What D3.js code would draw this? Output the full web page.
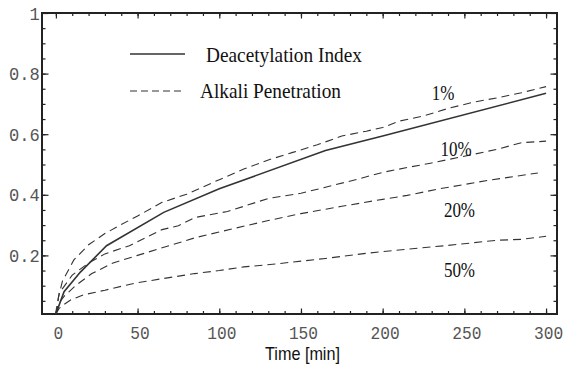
<!DOCTYPE html>
<html><head><meta charset="utf-8">
<script src="https://cdnjs.cloudflare.com/ajax/libs/d3/7.8.5/d3.min.js"></script>
<style>
html,body{margin:0;padding:0;background:#fff;}
svg{display:block;}
</style></head>
<body><svg id="chart" width="567" height="368"></svg>
<script>
// ---- data ----
const deacT = [0, 5, 15, 31, 66, 100, 165, 200, 300];
const deacV = [0.007, 0.08, 0.145, 0.232, 0.342, 0.42, 0.546, 0.594, 0.735];

const p1T = [0, 1.5, 4, 11, 20, 30, 40, 50, 65, 80, 100, 115, 130, 145, 160, 175, 190, 200, 210, 225, 240, 255, 270, 285, 300];
const p1V = [0.007, 0.06, 0.115, 0.185, 0.235, 0.272, 0.302, 0.33, 0.375, 0.402, 0.45, 0.485, 0.515, 0.54, 0.565, 0.594, 0.61, 0.622, 0.643, 0.66, 0.685, 0.705, 0.72, 0.737, 0.757];

const p10T = [0, 2, 10, 20, 30, 45, 65, 75, 85, 105, 115, 130, 150, 165, 185, 200, 215, 230, 255, 270, 285, 300];
const p10V = [0.007, 0.075, 0.135, 0.175, 0.205, 0.232, 0.285, 0.298, 0.325, 0.345, 0.362, 0.388, 0.405, 0.425, 0.452, 0.474, 0.49, 0.505, 0.533, 0.55, 0.572, 0.577];

const p20T = [0, 1.5, 5, 12, 22, 35, 50, 65, 85, 110, 130, 150, 175, 200, 215, 235, 265, 295];
const p20V = [0.007, 0.04, 0.065, 0.1, 0.14, 0.175, 0.2, 0.225, 0.258, 0.29, 0.315, 0.338, 0.362, 0.385, 0.398, 0.42, 0.448, 0.472];

const p50T = [0, 2, 5, 9, 17, 30, 40, 50, 65, 85, 100, 115, 135, 165, 190, 210, 240, 270, 285, 300];
const p50V = [0.007, 0.025, 0.038, 0.053, 0.07, 0.085, 0.098, 0.11, 0.123, 0.14, 0.15, 0.162, 0.172, 0.19, 0.207, 0.218, 0.233, 0.25, 0.253, 0.263];

const xMajor = [0, 50, 100, 150, 200, 250, 300];
const xMinor = d3.range(0, 301, 10);
const yMajor = [0.2, 0.4, 0.6, 0.8, 1];
const yMinor = d3.range(1, 20).map(i => i * 0.05);

const curveLabels = ["1%", "10%", "20%", "50%"];
const curveLabelT = [237, 245, 247, 247];
const curveLabelV = [0.713, 0.528, 0.327, 0.13];

const legendLabels = ["Deacetylation Index", "Alkali Penetration"];
const xTitle = "Time [min]";

// ---- layout ----
const L = 42, R = 557, T = 13, B = 314;
const svg = d3.select("#chart");
const x = d3.scaleLinear().domain([-8.5, 306.7]).range([L, R]);
const y = d3.scaleLinear().domain([0.0066, 1]).range([B, T]);
const SX = 0.9;
const ink = "#222";
const tickFont = "Liberation Mono, monospace";

function styleAxis(g) {
  g.select(".domain").remove();
  g.selectAll(".tick line").attr("stroke", ink).attr("stroke-width", 1.2);
}

// bottom minor + major
svg.append("g").attr("transform", `translate(0,${B})`)
  .call(d3.axisBottom(x).tickValues(xMinor).tickSizeInner(-3).tickSizeOuter(0).tickFormat(""))
  .call(styleAxis);
const xb = svg.append("g").attr("transform", `translate(0,${B})`)
  .call(d3.axisBottom(x).tickValues(xMajor).tickSizeInner(-5.5).tickSizeOuter(0).tickPadding(12).tickFormat(d3.format("d")))
  .call(styleAxis);
xb.selectAll("text").attr("font-family", tickFont).attr("font-size", 18)
  .attr("fill", "#555").attr("dx", 2 / SX).attr("transform", `scale(${SX},1)`);

// top
svg.append("g").attr("transform", `translate(0,${T})`)
  .call(d3.axisTop(x).tickValues(xMinor).tickSizeInner(-3).tickSizeOuter(0).tickFormat(""))
  .call(styleAxis);
svg.append("g").attr("transform", `translate(0,${T})`)
  .call(d3.axisTop(x).tickValues(xMajor).tickSizeInner(-5.5).tickSizeOuter(0).tickFormat(""))
  .call(styleAxis);

// left
svg.append("g").attr("transform", `translate(${L},0)`)
  .call(d3.axisLeft(y).tickValues(yMinor).tickSizeInner(-3.5).tickSizeOuter(0).tickFormat(""))
  .call(styleAxis);
const yl = svg.append("g").attr("transform", `translate(${L},0)`)
  .call(d3.axisLeft(y).tickValues(yMajor).tickSizeInner(-6.5).tickSizeOuter(0).tickPadding(2.5)
    .tickFormat(d => d === 1 ? "1" : d3.format(".1f")(d)))
  .call(styleAxis);
yl.selectAll("text").attr("font-family", tickFont).attr("font-size", 19)
  .attr("fill", "#555").attr("transform", `scale(${SX},1)`);

// right
svg.append("g").attr("transform", `translate(${R},0)`)
  .call(d3.axisRight(y).tickValues(yMinor).tickSizeInner(-3.5).tickSizeOuter(0).tickFormat(""))
  .call(styleAxis);
svg.append("g").attr("transform", `translate(${R},0)`)
  .call(d3.axisRight(y).tickValues(yMajor).tickSizeInner(-6.5).tickSizeOuter(0).tickFormat(""))
  .call(styleAxis);

// frame
svg.append("rect").attr("x", L).attr("y", T).attr("width", R - L).attr("height", B - T)
  .attr("fill", "none").attr("stroke", ink).attr("stroke-width", 2);

// curves
const line = d3.line().x(d => x(d[0])).y(d => y(d[1]));
const zip = (a, b) => a.map((t, i) => [t, b[i]]);
const dashed = [[p1T, p1V], [p10T, p10V], [p20T, p20V], [p50T, p50V]];
dashed.forEach(([t, v]) => {
  svg.append("path").attr("d", line(zip(t, v))).attr("fill", "none")
    .attr("stroke", "#333").attr("stroke-width", 1.1).attr("stroke-dasharray", "8,5");
});
svg.append("path").attr("d", line(zip(deacT, deacV))).attr("fill", "none")
  .attr("stroke", "#333").attr("stroke-width", 1.6);

// text helper
function txt(px, py, s, opts) {
  const g = svg.append("g").attr("transform", `translate(${px},${py}) scale(${opts.sx || SX},1)`);
  g.append("text").text(s).attr("font-family", opts.font).attr("font-size", opts.size)
    .attr("fill", opts.fill || "#111").attr("text-anchor", opts.anchor || "start");
}

curveLabels.forEach((s, i) => {
  txt(x(curveLabelT[i]), y(curveLabelV[i]), s, {font: "Liberation Serif, serif", size: 20, anchor: "middle", sx: 0.85});
});

// legend
svg.append("line").attr("x1", 130).attr("x2", 185).attr("y1", 54).attr("y2", 54)
  .attr("stroke", "#333").attr("stroke-width", 1.6);
svg.append("line").attr("x1", 130).attr("x2", 185).attr("y1", 91).attr("y2", 91)
  .attr("stroke", "#333").attr("stroke-width", 1.1).attr("stroke-dasharray", "7,4");
txt(206, 62, legendLabels[0], {font: "Liberation Serif, serif", size: 21, sx: 0.92});
txt(200, 98, legendLabels[1], {font: "Liberation Serif, serif", size: 21, sx: 0.92});

// x title
txt((L + R) / 2 + 3, 360, xTitle, {font: "Liberation Sans, Arial, sans-serif", size: 18, anchor: "middle", sx: 0.9});
</script>
</body></html>
